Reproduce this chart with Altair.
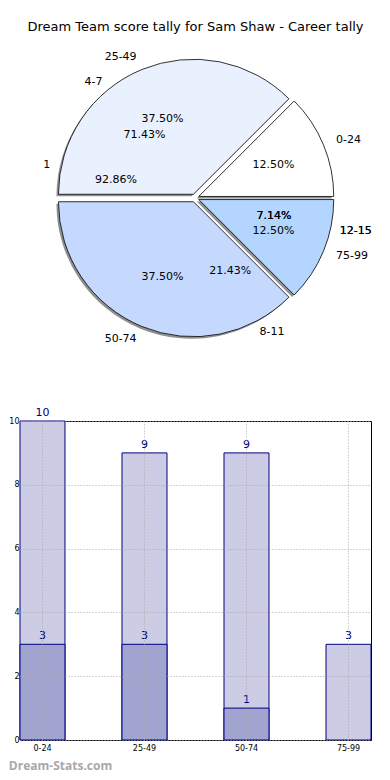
import altair as alt
import pandas as pd

# ---------------- data ----------------
SCORE_RANGES = ["0-24", "25-49", "50-74", "75-99"]
SCORE_PCT = [12.5, 37.5, 37.5, 12.5]

TALLY_A_LABELS = ["1", "12-15"]
TALLY_A_PCT = [92.86, 7.14]

TALLY_B_LABELS = ["4-7", "8-11", "12-15"]
TALLY_B_PCT = [71.43, 21.43, 7.14]

BAR_CATEGORIES = ["0-24", "25-49", "50-74", "75-99"]
BAR_TOTAL = [10, 9, 9, 3]
BAR_SUB = [3, 3, 1, 0]

# ---------------- styles ----------------
PIE_COLORS = ["#ffffff", "#e9f0fe", "#c5d8fe", "#b3d5ff"]
FONT = "DejaVu Sans"
CX, CY, R = 175, 156, 135
EXPLODE = 0.03

def pie_frame(labels, pct):
    return pd.DataFrame({"label": labels, "pct": pct, "order": list(range(len(labels)))})

def pie_base(df, explode):
    return (
        alt.Chart(df)
        .transform_window(cum="sum(pct)", sort=[alt.SortField("order")], frame=[None, 0])
        .transform_joinaggregate(total="sum(pct)")
        .transform_calculate(
            a0="2*PI*(datum.cum - datum.pct)/datum.total",
            a1="2*PI*datum.cum/datum.total",
        )
        .transform_calculate(
            m="(datum.a0 + datum.a1)/2",
            th0="PI/2 - datum.a0",
            th1="PI/2 - datum.a1",
        )
        .transform_calculate(
            thm="PI/2 - datum.m",
            cx=f"{CX} + {explode}*{R}*cos(datum.m)",
            cy=f"{CY} - {explode}*{R}*sin(datum.m)",
            sx=f"{CX} + {explode}*{R}*cos(datum.m) - 2",
            sy=f"{CY} - {explode}*{R}*sin(datum.m) + 2",
            pcttxt="format(datum.pct, '.2f') + '%'",
            side="cos(datum.m) >= 0 ? 'R' : 'L'",
        )
    )

score_df = pie_frame(SCORE_RANGES, SCORE_PCT)
base_a = pie_base(score_df, EXPLODE)

shadow = base_a.mark_arc(fill="#6a6a6a", opacity=0.75, strokeWidth=0).encode(
    x=alt.X("sx:Q", scale=None),
    y=alt.Y("sy:Q", scale=None),
    theta=alt.Theta("th0:Q", scale=None),
    theta2="th1:Q",
    radius=alt.value(R),
)

wedges = base_a.mark_arc(stroke="black", strokeWidth=0.8).encode(
    x=alt.X("cx:Q", scale=None),
    y=alt.Y("cy:Q", scale=None),
    theta=alt.Theta("th0:Q", scale=None),
    theta2="th1:Q",
    radius=alt.value(R),
    color=alt.Color("label:N", scale=alt.Scale(domain=SCORE_RANGES, range=PIE_COLORS), legend=None),
)

def labels_layers(base):
    lr = base.transform_filter("datum.side == 'R'").mark_text(
        radius=R * 1.1, align="left", baseline="middle", font=FONT, fontSize=11, color="black"
    ).encode(
        x=alt.X("cx:Q", scale=None), y=alt.Y("cy:Q", scale=None),
        theta=alt.Theta("thm:Q", scale=None), text="label:N",
    )
    ll = base.transform_filter("datum.side == 'L'").mark_text(
        radius=R * 1.1, align="right", baseline="middle", font=FONT, fontSize=11, color="black"
    ).encode(
        x=alt.X("cx:Q", scale=None), y=alt.Y("cy:Q", scale=None),
        theta=alt.Theta("thm:Q", scale=None), text="label:N",
    )
    pt = base.mark_text(
        radius=R * 0.6, align="center", baseline="middle", font=FONT, fontSize=11, color="black"
    ).encode(
        x=alt.X("cx:Q", scale=None), y=alt.Y("cy:Q", scale=None),
        theta=alt.Theta("thm:Q", scale=None), text="pcttxt:N",
    )
    return [lr, ll, pt]

base_b = pie_base(pie_frame(TALLY_A_LABELS, TALLY_A_PCT), 0)
base_c = pie_base(pie_frame(TALLY_B_LABELS, TALLY_B_PCT), 0)

pie = alt.layer(
    shadow, wedges,
    *labels_layers(base_a), *labels_layers(base_b), *labels_layers(base_c),
).properties(
    width=351, height=330,
    view=alt.ViewBackground(stroke=None),
    title=alt.TitleParams(
        "Dream Team score tally for Sam Shaw - Career tally",
        font=FONT, fontSize=13, fontWeight="normal", color="black",
        anchor="middle", offset=8,
    ),
)

# ---------------- bar chart ----------------
bar_df = pd.DataFrame({"cat": BAR_CATEGORIES, "total": BAR_TOTAL, "sub": BAR_SUB})

xenc = alt.X(
    "cat:N", sort=BAR_CATEGORIES, title=None,
    scale=alt.Scale(paddingInner=0.559, paddingOuter=0),
    axis=alt.Axis(labelAngle=0, labelFontSize=8, labelFont=FONT, labelColor="black",
                  ticks=False, domain=False, labelPadding=4,
                  grid=True, gridColor="#aaaaaa", gridDash=[1, 2], gridWidth=1, zindex=1),
)
yscale = alt.Scale(domain=[0, 10], nice=False)
yaxis = alt.Axis(values=[0, 2, 4, 6, 8, 10], labelFontSize=8, labelFont=FONT, labelColor="black",
                 ticks=False, domain=False, labelPadding=1, title=None,
                 grid=True, gridColor="#aaaaaa", gridDash=[1, 2], gridWidth=1, zindex=1)

bars_total = alt.Chart(bar_df).mark_bar(fill="#ccccE4", stroke="#000080", strokeWidth=1).encode(
    x=xenc, y=alt.Y("total:Q", scale=yscale, axis=yaxis)
)
bars_sub = alt.Chart(bar_df).transform_filter("datum.sub > 0").mark_bar(
    fill="#a2a4d0", stroke="#000080", strokeWidth=1
).encode(x=alt.X("cat:N", sort=BAR_CATEGORIES), y=alt.Y("sub:Q", scale=yscale))

txt_total = alt.Chart(bar_df).mark_text(
    baseline="bottom", dy=-3, font=FONT, fontSize=11, color="#000080"
).encode(x=alt.X("cat:N", sort=BAR_CATEGORIES), y=alt.Y("total:Q", scale=yscale), text="total:Q")
txt_sub = alt.Chart(bar_df).transform_filter("datum.sub > 0").mark_text(
    baseline="bottom", dy=-3, font=FONT, fontSize=11, color="#000080"
).encode(x=alt.X("cat:N", sort=BAR_CATEGORIES), y=alt.Y("sub:Q", scale=yscale), text="sub:Q")

bars = alt.layer(bars_total, bars_sub, txt_total, txt_sub).properties(
    width=351, height=319,
    view=alt.ViewBackground(stroke="black", strokeWidth=1),
    title=alt.TitleParams(
        "Dream-Stats.com", orient="bottom", anchor="start", frame="bounds", offset=9,
        font="Open Sans", fontSize=12, fontWeight="bold", color="#a8a8a8",
    ),
)

chart = alt.vconcat(pie, bars, spacing=34).properties(
    padding={"top": 13, "left": 0, "right": 0, "bottom": 0}
).configure_view(stroke=None)

chart.save("out.html", embed_options={"renderer": "svg", "actions": False})
